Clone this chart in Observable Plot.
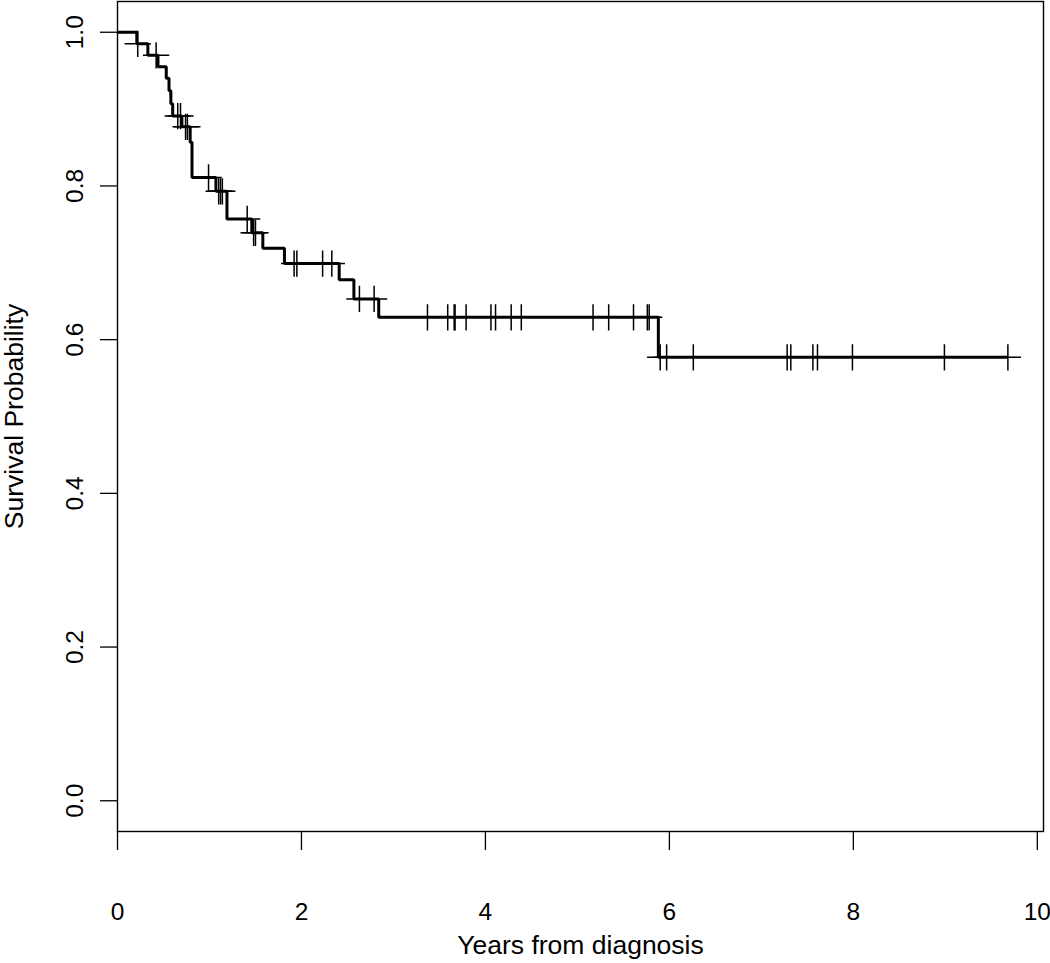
<!DOCTYPE html>
<html>
<head>
<meta charset="utf-8">
<script src="https://cdn.jsdelivr.net/npm/d3@7"></script>
<script src="https://cdn.jsdelivr.net/npm/@observablehq/plot@0.6"></script>
<style>
  html, body { margin: 0; padding: 0; background: #fff; }
  #chart svg { display: block; }
</style>
</head>
<body>
<div id="chart"></div>
<script>
// Kaplan–Meier step curve: event times (years) and survival after each event
const eventTimes = [0, 0.21, 0.33, 0.44, 0.53, 0.56, 0.58, 0.60, 0.70, 0.79, 0.81, 1.07, 1.19, 1.46, 1.58, 1.815, 2.41, 2.57, 2.84, 5.88];
const survival   = [1.0, 0.985, 0.970, 0.955, 0.940, 0.924, 0.907, 0.891, 0.877, 0.857, 0.811, 0.793, 0.757, 0.739, 0.719, 0.699, 0.678, 0.653, 0.629, 0.577];
const lastTime = 9.68;

// censored observations (years)
const censorTimes = [0.22, 0.42, 0.655, 0.685, 0.74, 0.76, 0.99, 1.10, 1.12, 1.14, 1.41, 1.48, 1.50,
  1.92, 1.95, 2.23, 2.33, 2.63, 2.79, 3.37, 3.59, 3.66, 3.67, 3.79, 4.06, 4.11, 4.28, 4.39,
  5.17, 5.34, 5.61, 5.76, 5.78, 5.90, 5.97, 6.26, 7.28, 7.32, 7.56, 7.61, 7.99, 8.99, 9.68];

const xTicks = [0, 2, 4, 6, 8, 10];
const yTicks = [0, 0.2, 0.4, 0.6, 0.8, 1.0];
const xLabel = "Years from diagnosis";
const yLabel = "Survival Probability";

const steps = eventTimes.map((t, i) => ({t, s: survival[i]}));
steps.push({t: lastTime, s: survival[survival.length - 1]});

const bis = d3.bisector(d => d).right;
const censors = censorTimes.map(t => ({t, s: survival[bis(eventTimes, t) - 1]}));

const font = "Liberation Sans, Arial, Helvetica, sans-serif";
const fs = 26.5;
const tfs = 24.5;

const chart = Plot.plot({
  width: 1050,
  height: 963,
  marginLeft: 117,
  marginRight: 7,
  marginTop: 1,
  marginBottom: 132,
  style: {background: "#fff", fontFamily: font, color: "#000"},
  x: {domain: [0, lastTime * 1.04]},
  y: {domain: [-0.04, 1.04]},
  marks: [
    Plot.axisX({ticks: xTicks, tickSize: 19, tickFormat: () => "", label: null, strokeWidth: 1.3}),
    Plot.axisY({ticks: yTicks, tickSize: 17, tickFormat: () => "", label: null, strokeWidth: 1.3}),
    Plot.text(xTicks, {x: d => d, frameAnchor: "bottom", dy: 81, text: d => String(d), fontSize: tfs, lineAnchor: "middle", fill: "#000"}),
    Plot.text(yTicks, {y: d => d, frameAnchor: "left", dx: -42, text: d => d3.format(".1f")(d), fontSize: tfs, rotate: -90, textAnchor: "middle", lineAnchor: "middle", fill: "#000"}),
    Plot.text([xLabel], {frameAnchor: "bottom", dy: 114, text: d => d, fontSize: fs, lineAnchor: "middle", fill: "#000"}),
    Plot.text([yLabel], {frameAnchor: "left", dx: -103, text: d => d, fontSize: fs, rotate: -90, textAnchor: "middle", lineAnchor: "middle", fill: "#000"}),
    Plot.line(steps, {x: "t", y: "s", curve: "step-after", stroke: "#000", strokeWidth: 3, strokeLinejoin: "miter", strokeLinecap: "butt"}),
    Plot.dot(censors, {x: "t", y: "s", symbol: "plus", r: 8.5, stroke: "#000", strokeWidth: 1.5}),
    Plot.frame({stroke: "#000", strokeWidth: 1.4})
  ]
});
document.getElementById("chart").appendChild(chart);
</script>
</body>
</html>
